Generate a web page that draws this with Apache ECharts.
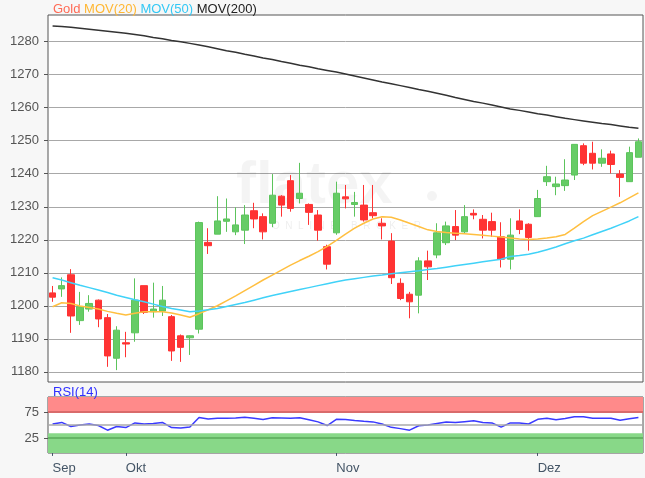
<!DOCTYPE html>
<html>
<head>
<meta charset="utf-8">
<script src="https://cdn.jsdelivr.net/npm/echarts@6/dist/echarts.min.js"></script>
<style>
html,body{margin:0;padding:0;background:#f7f7f7;}
#c{width:645px;height:478px;}
</style>
</head>
<body>
<div id="c"></div>
<script>
// ---- data ----
var dates = [
 '19.09.','20.09.','21.09.','24.09.','25.09.','26.09.','27.09.','28.09.',
 '01.10.','02.10.','03.10.','04.10.','05.10.','08.10.','09.10.','10.10.','11.10.','12.10.','15.10.','16.10.','17.10.','18.10.','19.10.','22.10.','23.10.','24.10.','25.10.','26.10.','29.10.','30.10.','31.10.',
 '01.11.','02.11.','05.11.','06.11.','07.11.','08.11.','09.11.','12.11.','13.11.','14.11.','15.11.','16.11.','19.11.','20.11.','21.11.','22.11.','23.11.','26.11.','27.11.','28.11.','29.11.','30.11.',
 '03.12.','04.12.','05.12.','06.12.','07.12.','10.12.','11.12.','12.12.','13.12.','14.12.','17.12.','18.12.'
];
var openV  = [1203.9,1205.1,1209.4,1195.5,1199.0,1201.7,1196.4,1184.1,1188.8,1191.8,1206.1,1198.2,1198.4,1196.7,1190.9,1190.3,1192.9,1219.2,1221.7,1225.6,1222.4,1222.9,1228.8,1227.0,1225.0,1233.2,1237.9,1232.5,1230.7,1227.5,1217.9,1222.1,1233.0,1230.7,1230.5,1228.2,1225.0,1219.6,1206.8,1203.5,1203.2,1213.6,1215.4,1219.1,1224.0,1222.4,1228.0,1226.2,1225.5,1220.9,1214.1,1225.7,1224.7,1227.0,1237.6,1236.1,1236.4,1239.6,1248.5,1246.2,1243.2,1246.0,1239.9,1237.6,1245.0];
var closeV = [1202.6,1206.1,1196.9,1199.7,1200.7,1196.0,1184.8,1192.6,1188.4,1201.7,1198.0,1199.0,1201.7,1186.3,1187.4,1190.9,1225.2,1218.2,1225.7,1226.3,1224.5,1227.5,1226.3,1222.4,1233.5,1230.5,1229.5,1234.1,1228.3,1222.9,1212.6,1234.1,1232.4,1231.3,1226.0,1227.3,1224.2,1208.5,1202.2,1201.2,1213.6,1211.8,1222.1,1224.2,1221.4,1227.0,1227.5,1222.9,1222.9,1214.1,1221.4,1223.1,1220.7,1232.5,1239.1,1236.9,1238.1,1248.9,1243.2,1243.2,1244.7,1242.8,1238.9,1246.4,1249.7];
var lowV   = [1201.2,1202.7,1191.8,1194.2,1198.2,1193.5,1181.5,1180.5,1184.4,1189.1,1197.5,1196.4,1196.9,1183.3,1183.0,1185.1,1191.6,1215.7,1221.7,1222.4,1221.4,1218.7,1223.5,1220.1,1223.8,1227.0,1228.5,1231.0,1224.5,1219.7,1211.0,1221.5,1229.5,1227.0,1225.5,1226.5,1220.1,1206.6,1201.7,1196.2,1197.7,1207.8,1214.4,1218.4,1219.9,1221.9,1226.2,1220.4,1220.9,1211.6,1211.0,1221.7,1216.7,1227.0,1236.3,1233.5,1234.8,1238.1,1242.6,1241.3,1242.1,1240.1,1233.0,1237.6,1245.0];
var highV  = [1206.0,1208.6,1211.1,1204.2,1203.2,1201.9,1197.5,1193.8,1192.1,1208.3,1206.1,1207.0,1206.0,1197.2,1191.3,1191.0,1225.5,1223.5,1233.2,1232.5,1229.8,1230.5,1231.2,1228.0,1239.9,1233.5,1239.6,1243.3,1231.0,1229.0,1218.5,1237.6,1236.6,1234.5,1236.6,1236.6,1226.5,1222.0,1208.3,1204.2,1214.7,1216.7,1225.0,1225.5,1229.0,1230.5,1229.2,1227.5,1228.2,1225.3,1226.5,1229.2,1225.0,1235.1,1242.4,1239.1,1244.4,1248.9,1249.2,1249.7,1247.4,1247.0,1241.1,1248.2,1250.7];
var mov20  = [1199.7,1200.9,1200.7,1199.9,1199.5,1199.0,1198.3,1197.7,1197.2,1197.7,1198.2,1198.2,1198.2,1197.8,1197.2,1196.5,1197.6,1198.8,1200.0,1201.5,1203.0,1204.6,1206.2,1207.8,1209.3,1210.8,1212.3,1213.7,1215.0,1216.4,1218.0,1219.8,1221.7,1223.5,1225.0,1226.3,1227.0,1226.8,1226.0,1225.0,1224.0,1223.0,1222.5,1222.2,1222.0,1221.8,1221.6,1221.4,1221.1,1220.8,1220.5,1220.2,1220.1,1220.2,1220.5,1220.9,1221.6,1223.5,1225.5,1227.3,1228.6,1229.9,1231.2,1232.7,1234.2];
var mov50  = [1208.5,1207.8,1207.0,1206.2,1205.5,1204.8,1204.0,1203.2,1202.5,1201.8,1201.2,1200.5,1199.8,1199.2,1198.7,1198.2,1198.4,1198.8,1199.2,1199.8,1200.4,1201.0,1201.7,1202.4,1203.1,1203.7,1204.3,1204.9,1205.5,1206.1,1206.7,1207.3,1207.8,1208.2,1208.6,1209.0,1209.3,1209.7,1210.0,1210.3,1210.6,1211.0,1211.3,1211.7,1212.1,1212.5,1212.9,1213.3,1213.7,1214.1,1214.9,1215.2,1215.6,1216.2,1217.0,1217.8,1218.8,1219.7,1220.5,1221.5,1222.5,1223.5,1224.6,1225.7,1227.0];
var mov200 = [1284.8,1284.6,1284.4,1284.1,1283.8,1283.5,1283.2,1282.9,1282.6,1282.2,1281.8,1281.3,1280.9,1280.4,1280.0,1279.5,1279.0,1278.5,1277.9,1277.3,1276.8,1276.2,1275.7,1275.1,1274.6,1274.0,1273.5,1272.9,1272.4,1271.8,1271.3,1270.8,1270.2,1269.6,1269.0,1268.4,1267.8,1267.3,1266.7,1266.1,1265.5,1265.0,1264.4,1263.8,1263.1,1262.5,1261.9,1261.4,1260.8,1260.2,1259.6,1259.2,1258.7,1258.2,1257.8,1257.3,1256.8,1256.4,1256.0,1255.6,1255.2,1254.9,1254.5,1254.1,1253.8];
var rsi14  = [52,55,47,50,52,49,40,47,45,54,52,53,55,45,44,46,64.6,61.5,63,63,63.5,65,63,60.5,64,63.5,63,64,60,56,49,61,60.5,58.5,57,56,52,45.5,43,40,48.6,50,53,56,55,56.5,58,55,54,46,54,54,52,61,63,60,62.5,66,66,63,63,63,59,62,64.5];
var priceTicks = [1180,1190,1200,1210,1220,1230,1240,1250,1260,1270,1280];
var rsiTicks = [25,75];
var monthIdx = [0,8,31,53];
var monthNames = ['Sep','Okt','Nov','Dez'];

var candles = openV.map(function(o,i){ return [o, closeV[i], lowV[i], highV[i]]; });

var FONT = "'Liberation Sans', Arial, sans-serif";
var chart = echarts.init(document.getElementById('c'));
chart.setOption({
  animation:false,
  backgroundColor:'#f7f7f7',
  textStyle:{fontFamily:FONT},
  title:[
    {left:48, top:-2, text:'{a|Gold} {b|MOV(20)} {c|MOV(50)} {d|MOV(200)}',
     textStyle:{fontSize:13, fontWeight:'normal', fontFamily:FONT,
       rich:{a:{color:'#ff6a55',fontSize:13,fontFamily:FONT},b:{color:'#ffb733',fontSize:13,fontFamily:FONT},c:{color:'#33c8f5',fontSize:13,fontFamily:FONT},d:{color:'#222',fontSize:13,fontFamily:FONT}}}},
    {left:48, top:381, text:'RSI(14)', textStyle:{fontSize:13, fontWeight:'normal', color:'#3030ff', fontFamily:FONT}}
  ],
  graphic:[
    {type:'text', left:236, top:156, z:1, silent:true,
     style:{text:'flatex', font:'bold 60px '+FONT, fill:'rgba(0,0,0,0.045)'}},
    {type:'circle', shape:{cx:432, cy:196, r:5}, z:1, silent:true, style:{fill:'rgba(0,0,0,0.045)'}},
    {type:'text', left:272, top:221, z:1, silent:true,
     style:{text:'O  N  L  I  N  E     B  R  O  K  E  R', font:'10px '+FONT, fill:'rgba(0,0,0,0.07)'}}
  ],
  grid:[
    {left:48, right:2, top:15, height:367, show:true, backgroundColor:'#fff', borderColor:'#555', borderWidth:1},
    {left:48, right:2, top:397, height:56, show:true, backgroundColor:'#fff', borderColor:'#555', borderWidth:1}
  ],
  xAxis:[
    {type:'category', gridIndex:0, data:dates, boundaryGap:true,
     axisLine:{show:false}, axisTick:{show:false}, axisLabel:{show:false}, splitLine:{show:false}},
    {type:'category', gridIndex:1, data:dates, boundaryGap:true,
     axisLine:{show:false},
     axisTick:{show:true, alignWithLabel:true, length:5, lineStyle:{color:'#456'},
       interval:function(i){ return monthIdx.indexOf(i) >= 0; }},
     axisLabel:{show:true, color:'#456', fontSize:13, margin:9, align:'left',
       interval:function(i){ return monthIdx.indexOf(i) >= 0; },
       formatter:function(v,i){ var k = monthIdx.indexOf(i); return k >= 0 ? monthNames[k] : ''; }},
     splitLine:{show:false}}
  ],
  yAxis:[
    {type:'value', gridIndex:0, min:1176.9, max:1288.1, position:'left',
     axisLine:{show:false},
     axisTick:{show:true, length:4, customValues:priceTicks, lineStyle:{color:'#555'}},
     axisLabel:{customValues:priceTicks, color:'#555', fontSize:13, margin:9,
       formatter:function(v){ return String(Math.round(v)); }},
     splitLine:{show:true, lineStyle:{color:'#a8a8a8', width:1}}},
    {type:'value', gridIndex:1, min:-4, max:104, position:'left',
     axisLine:{show:false},
     axisTick:{show:true, length:4, customValues:rsiTicks, lineStyle:{color:'#555'}},
     axisLabel:{customValues:rsiTicks, color:'#555', fontSize:13, margin:9,
       formatter:function(v){ return String(Math.round(v)); }},
     splitLine:{show:false}}
  ],
  series:[
    {type:'candlestick', xAxisIndex:0, yAxisIndex:0, data:candles, barWidth:7,
     itemStyle:{color:'#66cc66', color0:'#ff3333', borderColor:'#5cc45c', borderColor0:'#ff3333', borderWidth:1}},
    {type:'line', xAxisIndex:0, yAxisIndex:0, data:mov20, symbol:'none', smooth:false,
     lineStyle:{color:'#ffbf40', width:1.5}},
    {type:'line', xAxisIndex:0, yAxisIndex:0, data:mov50, symbol:'none',
     lineStyle:{color:'#40d2f8', width:1.5}},
    {type:'line', xAxisIndex:0, yAxisIndex:0, data:mov200, symbol:'none',
     lineStyle:{color:'#333', width:1.5}},
    {type:'line', xAxisIndex:1, yAxisIndex:1, data:[], z:1, silent:true,
     markArea:{silent:true, data:[
       [{yAxis:73, itemStyle:{color:'#ff8a8a'}},{yAxis:104}],
       [{yAxis:-4, itemStyle:{color:'#88d888'}},{yAxis:34}]
     ]}},
    {type:'line', xAxisIndex:1, yAxisIndex:1, data:rsi14, symbol:'none', z:3,
     lineStyle:{color:'#3a3aff', width:1.5},
     markLine:{silent:true, symbol:'none', label:{show:false}, data:[
       {yAxis:75, lineStyle:{color:'#cc6060', width:1.5, type:'solid'}},
       {yAxis:50, lineStyle:{color:'#aaa', width:1.5, type:'solid'}},
       {yAxis:25, lineStyle:{color:'#5aaa5a', width:1.5, type:'solid'}}
     ]}}
  ]
});
</script>
</body>
</html>
